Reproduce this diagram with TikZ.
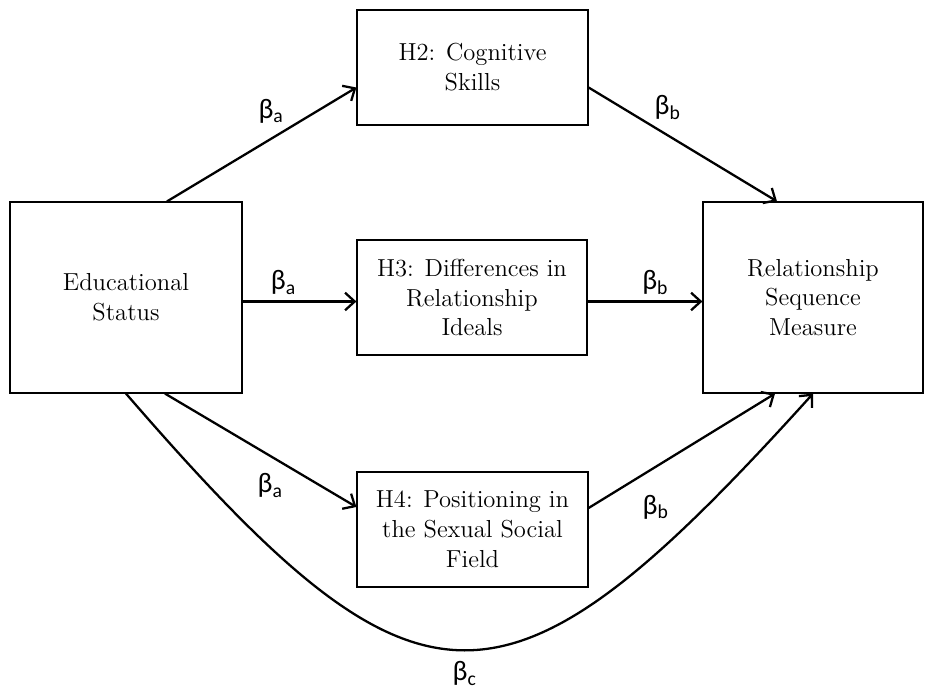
\documentclass[tikz,border=0pt]{standalone}
\usepackage{fontspec}
\usepackage{tikz}
\usetikzlibrary{arrows.meta,calc,shadows}
\newfontfamily\betafont{Carlito}
\newcommand{\coef}[1]{{\betafont\fontsize{16}{16}\selectfont β\textsubscript{#1}}}

\begin{document}
\begin{tikzpicture}[x=0.02cm,y=0.02cm,>={Straight Barb[length=5.5pt,width=10pt]},
  font=\fontsize{14}{17}\selectfont,
  box/.style={draw,line width=0.7pt,fill=white,align=center,inner sep=0pt,
    drop shadow={opacity=0.2,shadow xshift=0.8pt,shadow yshift=-0.8pt}},
  link/.style={->,line width=1.3pt}]
  \useasboundingbox (0,0) rectangle (925,696);
  % boxes
  \node[box,minimum width=4.64cm,minimum height=3.82cm] (edu) at (126,398.5) {Educational\\Status};
  \node[box,minimum width=4.62cm,minimum height=2.3cm] (h2) at (472.5,628.5) {H2: Cognitive\\Skills};
  \node[box,minimum width=4.6cm,minimum height=2.3cm] (h3) at (472,398.5) {H3: Differences in\\Relationship\\Ideals};
  \node[box,minimum width=4.62cm,minimum height=2.3cm] (h4) at (472.5,166.5) {H4: Positioning in\\the Sexual Social\\Field};
  \node[box,minimum width=4.4cm,minimum height=3.82cm] (rel) at (813,398.5) {Relationship\\Sequence\\Measure};
  % paths
  \draw[link] ($(edu.north)+(41,0)$) -- node[pos=0.55,above=5pt] {\coef{a}} ($(h2.west)+(0,-20)$);
  \draw[link] ($(h2.east)+(0,-20)$) -- node[pos=0.42,above=5pt] {\coef{b}} ($(rel.north)+(-36,0)$);
  \draw[link] ($(edu.east)+(0,-4)$) -- node[pos=0.36,above=0pt] {\coef{a}} ($(h3.west)+(0,-4)$);
  \draw[link] ($(h3.east)+(0,-4)$) -- node[pos=0.59,above=0pt] {\coef{b}} ($(rel.west)+(0,-4)$);
  \draw[link] ($(edu.south)+(39,0)$) -- node[pos=0.55,below=6pt] {\coef{a}} ($(h4.west)+(0,22.5)$);
  \draw[link] ($(h4.east)+(0,21.5)$) -- node[pos=0.36,below=12pt] {\coef{b}} ($(rel.south)+(-38,0)$);
  \draw[link] (edu.south) .. controls ($(edu.south)+(296,-342)$) and ($(rel.south)+(-309,-342)$) .. node[below=5pt,inner sep=1pt] {\coef{c}} (rel.south);
\end{tikzpicture}
\end{document}
